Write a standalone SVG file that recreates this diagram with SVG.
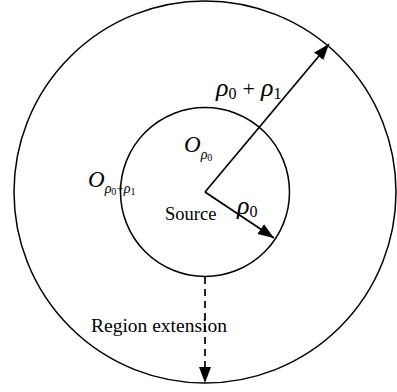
<svg xmlns="http://www.w3.org/2000/svg" width="397" height="392" viewBox="0 0 397 392">
<defs>
<style>
.c{fill:none;stroke:#000;stroke-width:1.5}
.l{stroke:#000;stroke-width:1.7;fill:none}
.t{font-family:"Liberation Serif","Times New Roman",serif;fill:#000}
.g{font-family:"Liberation Serif","DejaVu Serif",serif;font-style:italic;fill:#000}
</style>
<marker id="ah" markerUnits="userSpaceOnUse" markerWidth="18" markerHeight="14" refX="16" refY="6" orient="auto">
<path d="M0,0 L16,6 L0,12 Z" fill="#000"/>
</marker>
</defs>
<rect width="397" height="392" fill="#fff"/>
<g id="outer-region"><circle class="c" cx="205" cy="192" r="191"/></g>
<g id="inner-region"><circle class="c" cx="205" cy="192" r="84.5"/></g>
<g id="connectors">
<line class="l" x1="205" y1="192" x2="329" y2="44" marker-end="url(#ah)"/>
<line class="l" x1="205" y1="192" x2="274" y2="238" marker-end="url(#ah)"/>
<line class="l" x1="205" y1="277" x2="205" y2="383" stroke-dasharray="7,5" marker-end="url(#ah)"/>
</g>
<g id="labels">
<text class="g" x="216" y="96" font-size="26">ρ<tspan font-size="16" font-style="normal" dy="3">0</tspan><tspan font-size="22" font-style="normal" dy="-3" dx="6">+</tspan><tspan dx="6">ρ</tspan><tspan font-size="16" font-style="normal" dy="3">1</tspan></text>
<text class="g" x="184" y="152" font-size="23">O<tspan font-size="14" dy="7">ρ</tspan><tspan class="t" font-style="normal" font-size="10" dy="2">0</tspan></text>
<text class="g" x="88" y="187" font-size="23">O<tspan font-size="14" dy="6">ρ</tspan><tspan class="t" font-style="normal" font-size="10" dy="2">0</tspan><tspan class="t" font-style="normal" font-size="13" dy="-2">+</tspan><tspan font-size="14">ρ</tspan><tspan class="t" font-style="normal" font-size="10" dy="2">1</tspan></text>
<text class="t" x="165" y="220" font-size="18.5">Source</text>
<text class="g" x="237" y="214" font-size="26">ρ<tspan font-size="16" font-style="normal" dy="3">0</tspan></text>
<text class="t" x="91" y="332" font-size="19.5">Region extension</text>
</g>
</svg>
